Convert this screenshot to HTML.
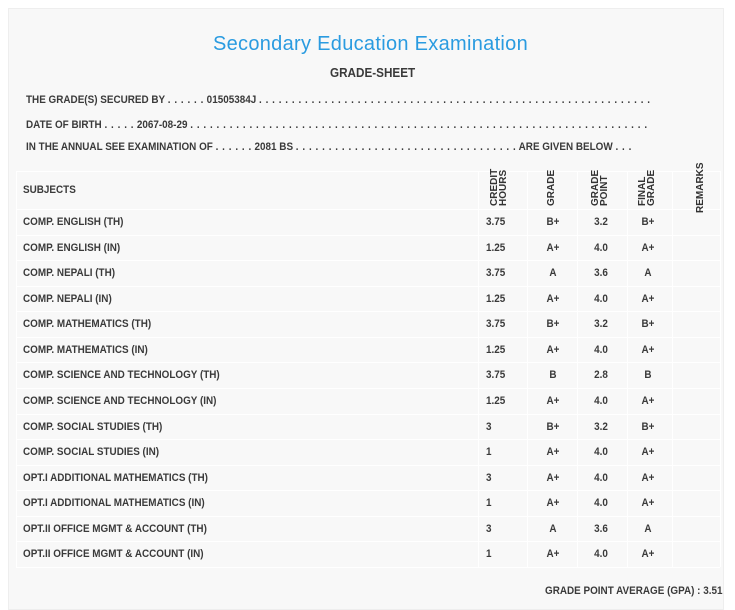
<!DOCTYPE html>
<html><head><meta charset="utf-8"><style>
body{margin:0;width:735px;height:604px;background:#fff;font-family:"Liberation Sans",sans-serif;color:#333;position:relative;overflow:hidden}
.panel{position:absolute;left:8px;top:8px;width:714px;height:600px;background:#f8f8f8;border:1px solid #eee}
.t{position:absolute;white-space:nowrap;font-size:11px;font-weight:bold;transform:scaleX(0.9);transform-origin:left center;line-height:14px;color:#3a3a3a}
.c{transform:scaleX(0.9) translateX(-50%);transform-origin:left center}
.d{letter-spacing:0.6px}
.h{position:absolute;background:#fff;height:1px}
.v{position:absolute;background:#fff;width:1px}
.vt{position:absolute;font-size:10px;font-weight:bold;writing-mode:vertical-rl;transform:rotate(180deg);line-height:9px;text-align:left;color:#333}
</style></head><body>
<div class="panel"></div>
<div style="position:absolute;left:0;width:741px;top:33px;text-align:center;font-size:20px;color:#2a9be0;letter-spacing:0.3px">Secondary Education Examination</div>
<div class="t" style="left:330px;top:66px;font-size:13px">GRADE-SHEET</div>
<div class="t" style="left:26px;top:93px">THE GRADE(S) SECURED BY <span class="d">. . . . . .</span> 01505384J <span class="d">. . . . . . . . . . . . . . . . . . . . . . . . . . . . . . . . . . . . . . . . . . . . . . . . . . . . . . . . . . . .</span></div>
<div class="t" style="left:26px;top:118px">DATE OF BIRTH <span class="d">. . . . .</span> 2067-08-29 <span class="d">. . . . . . . . . . . . . . . . . . . . . . . . . . . . . . . . . . . . . . . . . . . . . . . . . . . . . . . . . . . . . . . . . . . . . .</span></div>
<div class="t" style="left:26px;top:140px">IN THE ANNUAL SEE EXAMINATION OF <span class="d">. . . . . .</span> 2081 BS <span class="d">. . . . . . . . . . . . . . . . . . . . . . . . . . . . . . . . . .</span> ARE GIVEN BELOW <span class="d">. . .</span></div>
<div id="g"></div>
<div class="t" style="left:23px;top:183px">SUBJECTS</div>
<div class="vt" style="left:490px;top:170px;height:36px">CREDIT<br>HOURS</div>
<div class="vt" style="left:547px;top:170px;height:36px">GRADE</div>
<div class="vt" style="left:591px;top:170px;height:36px">GRADE<br>POINT</div>
<div class="vt" style="left:638px;top:170px;height:36px">FINAL<br>GRADE</div>
<div class="vt" style="left:696px;top:165px;height:48px">REMARKS</div>
<div class="t" style="left:545px;top:584px;font-size:11px">GRADE POINT AVERAGE (GPA) : 3.51</div>
<script>
var rows=[["COMP. ENGLISH (TH)","3.75","B+","3.2","B+"],["COMP. ENGLISH (IN)","1.25","A+","4.0","A+"],["COMP. NEPALI (TH)","3.75","A","3.6","A"],["COMP. NEPALI (IN)","1.25","A+","4.0","A+"],["COMP. MATHEMATICS (TH)","3.75","B+","3.2","B+"],["COMP. MATHEMATICS (IN)","1.25","A+","4.0","A+"],["COMP. SCIENCE AND TECHNOLOGY (TH)","3.75","B","2.8","B"],["COMP. SCIENCE AND TECHNOLOGY (IN)","1.25","A+","4.0","A+"],["COMP. SOCIAL STUDIES (TH)","3","B+","3.2","B+"],["COMP. SOCIAL STUDIES (IN)","1","A+","4.0","A+"],["OPT.I ADDITIONAL MATHEMATICS (TH)","3","A+","4.0","A+"],["OPT.I ADDITIONAL MATHEMATICS (IN)","1","A+","4.0","A+"],["OPT.II OFFICE MGMT & ACCOUNT (TH)","3","A","3.6","A"],["OPT.II OFFICE MGMT & ACCOUNT (IN)","1","A+","4.0","A+"]];
var h="";var top0=209,rh=25.57;
h+='<div class="h" style="left:16px;width:704px;top:171px"></div>';
for(var i=0;i<=14;i++)h+='<div class="h" style="left:16px;width:704px;top:'+Math.round(top0+i*rh)+'px"></div>';
[478,527,577,627,672].forEach(function(x){h+='<div class="v" style="left:'+x+'px;top:171px;height:396px"></div>'});
h+='<div class="v" style="left:16px;top:171px;height:396px"></div><div class="v" style="left:720px;top:171px;height:396px"></div>';
rows.forEach(function(r,i){var y=Math.round(top0+i*rh+6);
h+='<div class="t" style="left:23px;top:'+y+'px">'+r[0].replace("&","&amp;")+'</div>';
h+='<div class="t" style="left:486px;top:'+y+'px">'+r[1]+'</div>';
h+='<div class="t c" style="left:553px;top:'+y+'px">'+r[2]+'</div>';
h+='<div class="t c" style="left:601px;top:'+y+'px">'+r[3]+'</div>';
h+='<div class="t c" style="left:648px;top:'+y+'px">'+r[4]+'</div>';});
document.getElementById("g").innerHTML=h;
</script>
</body></html>
